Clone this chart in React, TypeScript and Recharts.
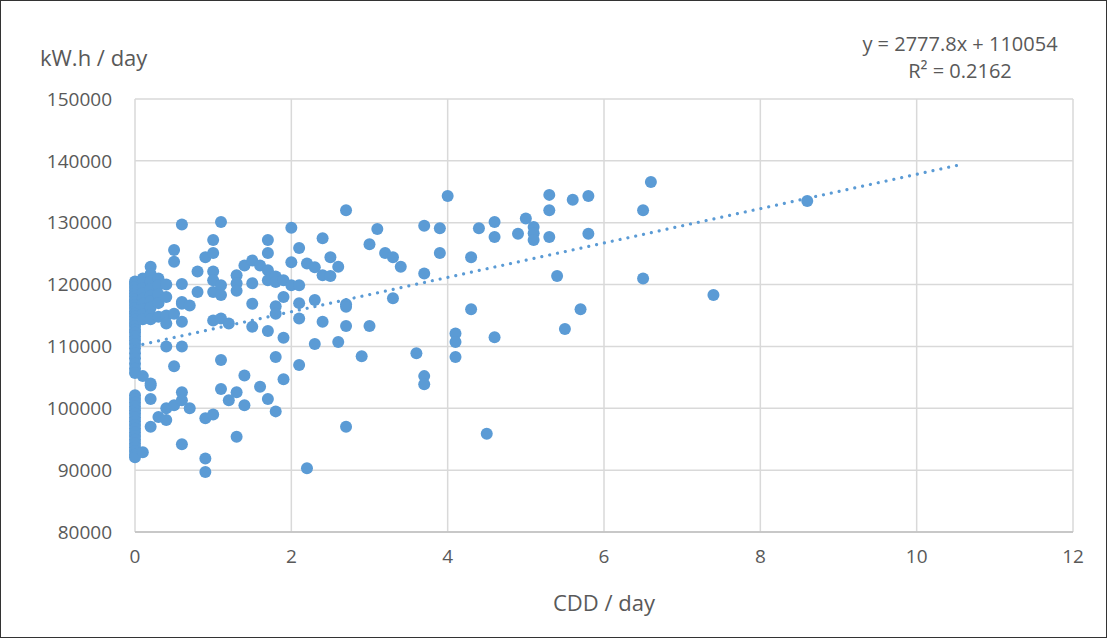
import { ScatterChart, Scatter, XAxis, YAxis, CartesianGrid } from 'recharts';

// x = CDD per day, y = kWh per day
const zeroCddDays = [
  120500, 120100, 119600, 119100, 118600, 118100, 117600, 117200, 116700, 116200, 115700, 115300,
  114800, 114300, 113800, 113300, 112700, 112200, 111600, 111000, 110400, 109700, 108900, 108100,
  107200, 106400, 105700, 102100, 101500, 100900, 100300, 99700, 99100, 98500, 97900, 97300,
  96700, 96100, 95500, 94900, 94300, 93700, 93100, 92500, 92100,
];

const lowCddDays: [number, number][] = [
  [0.1, 121000], [0.1, 120200], [0.1, 119400], [0.1, 118600], [0.1, 117700], [0.1, 116900],
  [0.1, 116000], [0.1, 115200], [0.1, 114400], [0.1, 105200], [0.1, 92900],
  [0.2, 122900], [0.2, 121700], [0.2, 120500], [0.2, 119300], [0.2, 118200], [0.2, 117300],
  [0.2, 116300], [0.2, 115100], [0.2, 114400], [0.2, 104000], [0.2, 103700], [0.2, 101500], [0.2, 97000],
  [0.3, 121000], [0.3, 119900], [0.3, 118400], [0.3, 117000], [0.3, 114800], [0.3, 98600],
  [0.4, 120000], [0.4, 118000], [0.4, 115000], [0.4, 113700], [0.4, 110000], [0.4, 100000], [0.4, 98100],
  [0.5, 125600], [0.5, 123700], [0.5, 115300], [0.5, 106800], [0.5, 100500],
  [0.6, 129700], [0.6, 120100], [0.6, 117200], [0.6, 116900], [0.6, 114000], [0.6, 110000],
  [0.6, 102600], [0.6, 101300], [0.6, 94200],
  [0.7, 116600], [0.7, 100000], [0.8, 122100], [0.8, 118800],
  [0.9, 124400], [0.9, 98400], [0.9, 91900], [0.9, 89700],
  [1.0, 127200], [1.0, 125100], [1.0, 122100], [1.0, 120700], [1.0, 118800], [1.0, 114200], [1.0, 99000],
  [1.1, 130100], [1.1, 119900], [1.1, 118300], [1.1, 114500], [1.1, 107800], [1.1, 103100],
  [1.2, 113700], [1.2, 101300],
  [1.3, 121500], [1.3, 120200], [1.3, 119000], [1.3, 102600], [1.3, 95400],
  [1.4, 123100], [1.4, 105300], [1.4, 100500],
  [1.5, 123900], [1.5, 120200], [1.5, 116900], [1.5, 113200],
  [1.6, 123100], [1.6, 103500],
  [1.7, 127200], [1.7, 125100], [1.7, 122300], [1.7, 120700], [1.7, 112500], [1.7, 101500],
  [1.8, 121300], [1.8, 120400], [1.8, 116500], [1.8, 115300], [1.8, 108300], [1.8, 99500],
  [1.9, 120700], [1.9, 118000], [1.9, 111400], [1.9, 104700],
];

const highCddDays: [number, number][] = [
  [2.0, 129200], [2.0, 123600], [2.0, 119900],
  [2.1, 125900], [2.1, 119900], [2.1, 117000], [2.1, 114500], [2.1, 107000],
  [2.2, 123400], [2.2, 90300], [2.3, 122800], [2.3, 117500], [2.3, 110400],
  [2.4, 127500], [2.4, 121500], [2.4, 114000], [2.5, 124400], [2.5, 121400],
  [2.6, 122900], [2.6, 110700],
  [2.7, 132000], [2.7, 116800], [2.7, 116400], [2.7, 113300], [2.7, 97000],
  [2.9, 108400], [3.0, 126500], [3.0, 113300], [3.1, 129000], [3.2, 125100],
  [3.3, 124400], [3.3, 117800], [3.4, 122900], [3.6, 108900],
  [3.7, 129500], [3.7, 121800], [3.7, 105200], [3.7, 103900],
  [3.9, 129100], [3.9, 125100], [4.0, 134300],
  [4.1, 112100], [4.1, 110700], [4.1, 108300], [4.3, 124400], [4.3, 116000],
  [4.4, 129100], [4.5, 95900], [4.6, 130100], [4.6, 127700], [4.6, 111500],
  [4.9, 128200], [5.0, 130700], [5.1, 129300], [5.1, 128300], [5.1, 127200],
  [5.3, 134500], [5.3, 132000], [5.3, 127700], [5.4, 121400], [5.5, 112800],
  [5.6, 133700], [5.7, 116000], [5.8, 134300], [5.8, 128200],
  [6.5, 132000], [6.5, 121000], [6.6, 136600], [7.4, 118300], [8.6, 133500],
];

const xTicks = [0, 2, 4, 6, 8, 10, 12];
const yTicks = [80000, 90000, 100000, 110000, 120000, 130000, 140000, 150000];

// linear trend shown in the chart: y = 2777.8x + 110054
const slope = 2777.8;
const intercept = 110054;
const trendRange = [0, 10.6];

const points = [
  ...zeroCddDays.map((y) => ({ x: 0, y })),
  ...lowCddDays.map(([x, y]) => ({ x, y })),
  ...highCddDays.map(([x, y]) => ({ x, y })),
];
const trend = trendRange.map((x) => ({ x, y: slope * x + intercept }));

const FONT = '"Open Sans", "Noto Sans", sans-serif';
const TEXT = '#595959';
const BLUE = '#5b9bd5';

export default function App() {
  return (
    <div style={{ position: 'absolute', left: 0, top: 0, width: 1107, height: 638, background: '#fff', fontFamily: FONT }}>
      <ScatterChart width={1107} height={638} margin={{ top: 99, right: 34, bottom: 46, left: 40 }}>
        <CartesianGrid stroke="#d9d9d9" strokeWidth={1.5} />
        <XAxis
          type="number"
          dataKey="x"
          domain={[0, 12]}
          ticks={xTicks}
          height={60}
          tickLine={false}
          tickSize={6}
          tickMargin={12}
          axisLine={{ stroke: '#bfbfbf', strokeWidth: 1.5 }}
          tick={{ fill: TEXT, fontSize: 19, fontFamily: FONT }}
        />
        <YAxis
          type="number"
          dataKey="y"
          domain={[80000, 150000]}
          ticks={yTicks}
          width={95}
          tickLine={false}
          axisLine={false}
          tickSize={6}
          tickMargin={17}
          tick={{ fill: TEXT, fontSize: 19, fontFamily: FONT }}
        />
        <Scatter
          data={points}
          isAnimationActive={false}
          shape={(p: any) => <circle cx={p.cx} cy={p.cy} r={6} fill={BLUE} />}
        />
        <Scatter
          data={trend}
          isAnimationActive={false}
          line={{ stroke: BLUE, strokeWidth: 3.2, strokeDasharray: '0.01 8', strokeLinecap: 'round' }}
          shape={() => <g />}
        />
      </ScatterChart>
      <div style={{ position: 'absolute', left: 40, top: 41, fontSize: 22, color: TEXT, lineHeight: '32px' }}>kW.h / day</div>
      <div style={{ position: 'absolute', left: 484, width: 240, top: 586, fontSize: 22, color: TEXT, textAlign: 'center', lineHeight: '32px' }}>CDD / day</div>
      <div style={{ position: 'absolute', left: 840, width: 240, top: 30, fontSize: 20, color: TEXT, textAlign: 'center', lineHeight: '27px' }}>
        y = 2777.8x + 110054
        <br />
        R² = 0.2162
      </div>
      <div style={{ position: 'absolute', left: 0, top: 0, width: 1107, height: 638, border: '1px solid #333', boxSizing: 'border-box', pointerEvents: 'none' }} />
    </div>
  );
}
